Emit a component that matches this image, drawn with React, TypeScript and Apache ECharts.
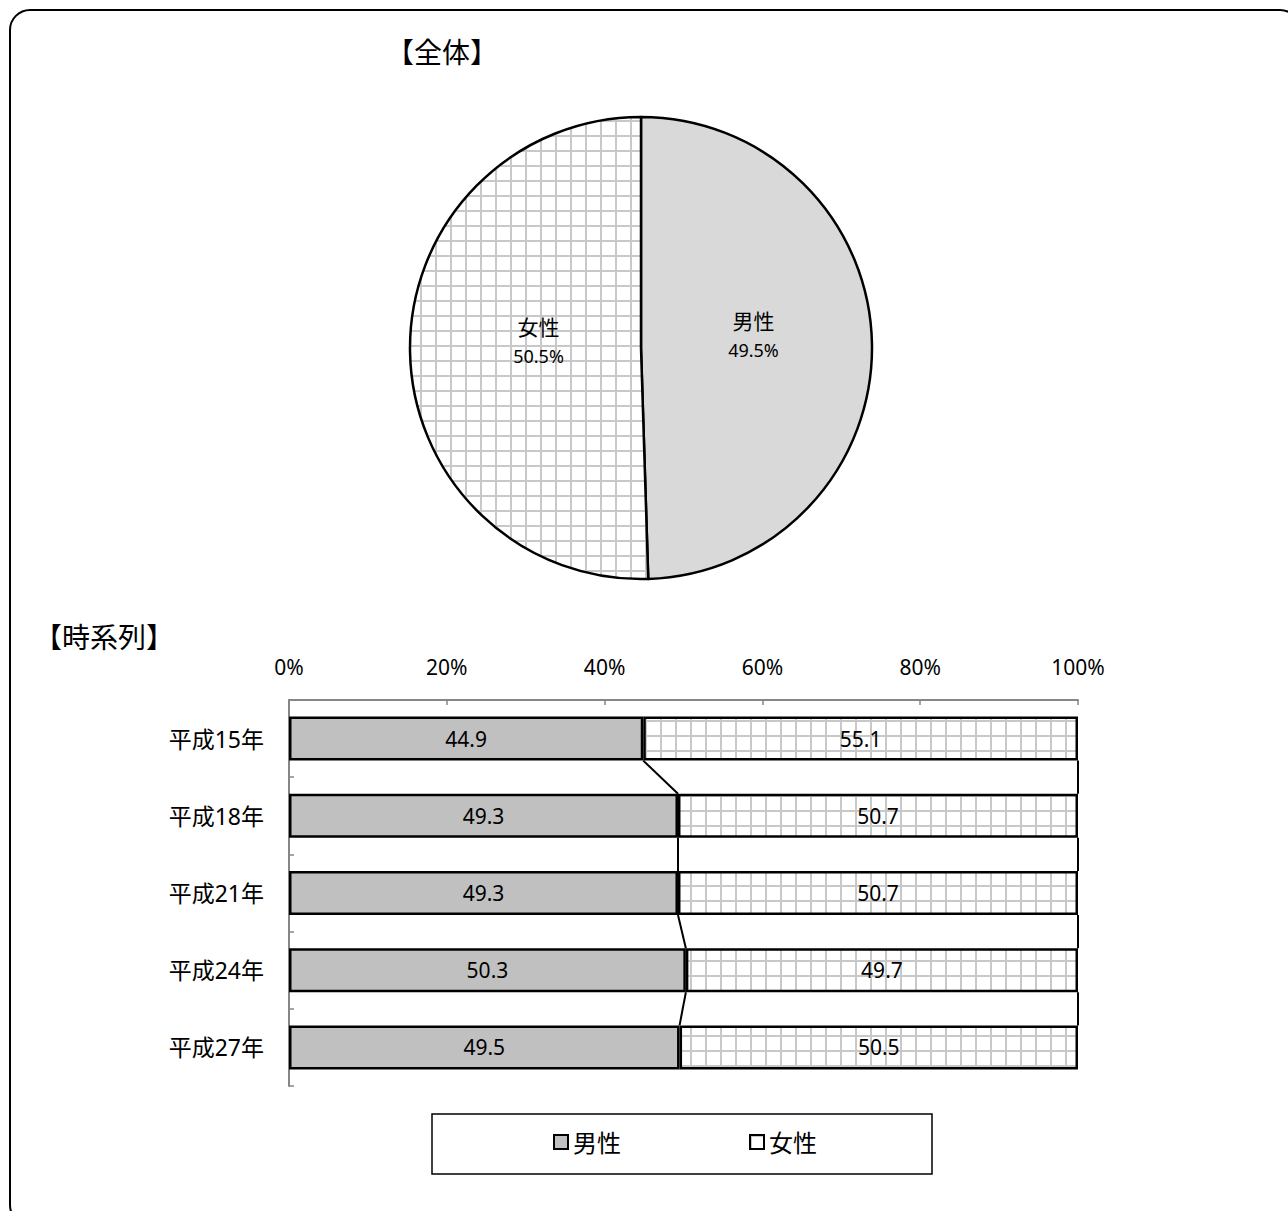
import React, { useEffect, useRef } from "react";
import * as echarts from "echarts";

const pieNames = ["男性", "女性"];
const pieValues = [49.5, 50.5];

const years = ["平成15年", "平成18年", "平成21年", "平成24年", "平成27年"];
const maleValues = [44.9, 49.3, 49.3, 50.3, 49.5];
const femaleValues = [55.1, 50.7, 50.7, 49.7, 50.5];
const xTicks = [0, 20, 40, 60, 80, 100];

const FONT = "'Noto Sans', 'Noto Sans CJK JP', sans-serif";

function makeGridPattern(): HTMLCanvasElement {
  const c = document.createElement("canvas");
  c.width = 15;
  c.height = 15;
  const ctx = c.getContext("2d")!;
  ctx.fillStyle = "#ffffff";
  ctx.fillRect(0, 0, 15, 15);
  ctx.fillStyle = "#c8c8c8";
  ctx.fillRect(0, 0, 15, 2);
  ctx.fillRect(0, 0, 2, 15);
  return c;
}

export default function App() {
  const ref = useRef<HTMLDivElement>(null);
  useEffect(() => {
    if (!ref.current) return;
    const chart = echarts.init(ref.current, null, { renderer: "svg" });
    const pattern = { image: makeGridPattern(), repeat: "repeat" } as any;

    const cumMale = maleValues.slice();
    const cumTotal = maleValues.map((m, i) => m + femaleValues[i]);
    const lineData: number[][] = [];
    for (let i = 0; i < years.length - 1; i++) {
      lineData.push([i, cumMale[i], cumMale[i + 1]]);
      lineData.push([i, cumTotal[i], cumTotal[i + 1]]);
    }
    const BAR_RATIO = 0.57;
    const pieOffsets = [
      [-6, -11],
      [16, -9],
    ];

    chart.setOption({
      animation: false,
      textStyle: { fontFamily: FONT },
      graphic: [
        {
          type: "rect",
          z: -1,
          shape: { x: 10, y: 10, width: 1290, height: 1215, r: 20 },
          style: { fill: "none", stroke: "#000", lineWidth: 2 },
        },
        {
          type: "text",
          x: 386,
          y: 52,
          style: { text: "【全体】", font: `28px ${FONT}`, fill: "#000", textVerticalAlign: "middle" },
        },
        {
          type: "text",
          x: 34,
          y: 637,
          style: { text: "【時系列】", font: `28px ${FONT}`, fill: "#000", textVerticalAlign: "middle" },
        },
        {
          type: "rect",
          z: -1,
          shape: { x: 432, y: 1114, width: 500, height: 60 },
          style: { fill: "#fff", stroke: "#000", lineWidth: 1.5 },
        },
      ],
      legend: {
        data: ["男性", "女性"],
        left: 548,
        top: 1125,
        itemGap: 128,
        itemWidth: 14,
        itemHeight: 14,
        icon: "rect",
        textStyle: { fontSize: 24, color: "#000", fontFamily: FONT },
      },
      grid: { left: 289, right: 210, top: 700, bottom: 125 },
      xAxis: {
        type: "value",
        position: "top",
        min: 0,
        max: 100,
        interval: 20,
        axisLine: { show: true, lineStyle: { color: "#868686", width: 2 } },
        axisTick: { show: true, inside: true, length: 5, lineStyle: { color: "#868686", width: 1.5 } },
        splitLine: { show: false },
        axisLabel: {
          formatter: (v: number) => (xTicks.includes(v) ? v + "%" : ""),
          fontSize: 21,
          color: "#000",
          margin: 23,
          fontFamily: FONT,
        },
      },
      yAxis: {
        type: "category",
        inverse: true,
        data: years,
        axisLine: { show: true, lineStyle: { color: "#868686", width: 2 } },
        axisTick: { show: true, inside: true, length: 5, lineStyle: { color: "#868686", width: 1.5 } },
        axisLabel: { fontSize: 23, color: "#000", margin: 25, fontFamily: FONT },
      },
      series: [
        {
          type: "pie",
          center: [641, 348],
          radius: 231,
          startAngle: 90,
          clockwise: true,
          silent: true,
          data: pieNames.map((n, i) => ({
            name: n,
            value: pieValues[i],
            itemStyle: {
              color: i === 0 ? "#d9d9d9" : pattern,
              borderColor: "#000",
              borderWidth: 2.5,
            },
            label: { offset: pieOffsets[i] },
          })),
          label: {
            show: true,
            position: "inside",
            formatter: "{n|{b}}\n{p|{c}%}",
            rich: {
              n: { fontSize: 21, color: "#000", fontFamily: FONT, lineHeight: 30 },
              p: { fontSize: 18, color: "#000", fontFamily: FONT, lineHeight: 28 },
            },
          },
          labelLine: { show: false },
          legendHoverLink: false,
        },
        {
          name: "男性",
          type: "bar",
          stack: "t",
          barWidth: BAR_RATIO * 100 + "%",
          data: maleValues,
          itemStyle: { color: "#c0c0c0", borderColor: "#000", borderWidth: 2.5 },
          label: { show: true, position: "inside", fontSize: 21, color: "#000", fontFamily: FONT, formatter: (p: any) => p.value.toFixed(1) },
        },
        {
          name: "女性",
          type: "bar",
          stack: "t",
          barWidth: BAR_RATIO * 100 + "%",
          data: femaleValues,
          itemStyle: { color: pattern, borderColor: "#000", borderWidth: 2.5 },
          label: { show: true, position: "inside", fontSize: 21, color: "#000", fontFamily: FONT, formatter: (p: any) => p.value.toFixed(1) },
        },
        {
          type: "custom",
          silent: true,
          data: lineData,
          encode: { x: [1, 2], y: 0 },
          z: 3,
          renderItem: (params: any, api: any) => {
            const i = api.value(0);
            const a = api.coord([api.value(1), i]);
            const b = api.coord([api.value(2), i + 1]);
            const band = api.size([0, 1])[1];
            const half = (band * BAR_RATIO) / 2;
            return {
              type: "line",
              shape: { x1: a[0], y1: a[1] + half, x2: b[0], y2: b[1] - half },
              style: { stroke: "#000", lineWidth: 2 },
            };
          },
        },
      ],
    });
    return () => chart.dispose();
  }, []);
  return (
    <div
      ref={ref}
      style={{ position: "fixed", left: 0, top: 0, width: 1288, height: 1211, background: "#fff" }}
    />
  );
}
